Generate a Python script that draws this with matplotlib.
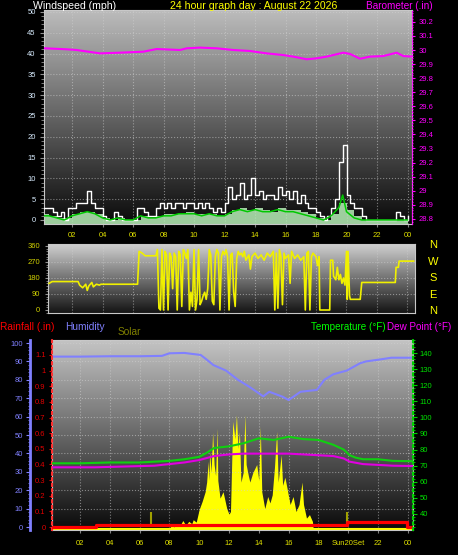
import numpy as np
import matplotlib
matplotlib.use('Agg')
import matplotlib.pyplot as plt
from matplotlib.ticker import MultipleLocator, FixedLocator
from matplotlib.colors import LinearSegmentedColormap

# ---------------- data ----------------
title = "24 hour graph day : August 22 2026"
hour_ticks = [2, 4, 6, 8, 10, 12, 14, 16, 18, 20, 22, 24]
hour_labels_top = ["02", "04", "06", "08", "10", "12", "14", "16", "18", "20", "22", "00"]
hour_labels_bottom = ["02", "04", "06", "08", "10", "12", "14", "16", "18", "Sun20Set", "22", "00"]

# barometer (inHg)
baro_h = [0.0, 0.23, 1.65, 2.3, 3.84, 5.15, 6.68, 7.55, 9.08, 9.52, 10.39, 11.49, 12.58, 13.67,
          14.77, 15.86, 16.51, 17.39, 18.05, 18.70, 19.79, 20.23, 20.89, 21.54, 22.41, 23.29, 23.72, 24.3]
baro_v = [30.012, 30.012, 30.005, 30.0, 29.976, 29.981, 29.988, 30.007, 30.0, 30.012, 30.017, 30.012,
          30.0, 29.993, 29.976, 29.964, 29.953, 29.934, 29.941, 29.953, 29.981, 29.972, 29.938, 29.953,
          29.957, 29.981, 29.957, 29.953]

# wind gust (mph), every 15 minutes from 00:00
gust_h = np.arange(0, 24.01, 0.25)
gust_v = [3, 3, 3, 2, 1, 2, 0, 3, 3, 4, 4, 4, 7, 4, 3, 3, 1, 0, 0, 2, 1, 0, 0, 0, 0, 3, 3, 2, 1, 1,
          3, 4, 3, 4, 3, 4, 4, 3, 4, 4, 3, 4, 3, 4, 3, 2, 3, 2, 4, 8, 5, 6, 9, 5, 6, 10, 6, 7, 5, 6,
          6, 5, 8, 6, 7, 5, 7, 4, 6, 4, 3, 3, 2, 1, 0, 1, 3, 5, 14, 18, 6, 4, 3, 3, 1, 0, 0, 0, 0, 0,
          0, 0, 0, 2, 1, 0, 1]
# wind speed (mph), every 30 minutes
speed_h = np.arange(0, 24.01, 0.5)
speed_v = [1.5, 1, 0.5, 0.5, 1.5, 2, 2, 1.5, 0.5, 0, 0.5, 0, 0, 1, 0.5, 1, 1.5, 1.5, 1.5, 2, 1.5,
           1.5, 1.5, 1, 1.5, 2.5, 3, 2.5, 3, 2.5, 2, 3, 2.5, 2.5, 2, 1.5, 0.5, 0, 1.5, 4, 2.5, 1,
           0, 0, 0, 0, 0, 0, 0]
avg_h = [0, 0.5, 1, 1.5, 2, 2.5, 3, 3.5, 4, 4.5, 5, 5.5, 6, 6.5, 7, 7.5, 8, 8.5, 9, 9.5, 10, 10.5,
         11, 11.5, 12, 12.5, 13, 13.5, 14, 14.5, 15, 15.5, 16, 16.5, 17, 17.5, 18, 18.5, 19, 19.5,
         19.75, 20, 20.5, 21, 24]
avg_v = [1, 1, 0.5, 0, 1, 1.5, 2, 1.5, 0.5, 0, 0.5, 0, 0, 1, 0.5, 0.5, 1, 1, 1.5, 1.5, 1.5, 1,
         1.5, 1, 1, 2, 2.5, 2, 2.5, 2, 2, 2.5, 2, 2, 1.5, 1, 0.5, 0, 1, 3, 6, 2, 0.5, 0, 0]

# wind direction (degrees)
dir_h = [0.5, 0.7, 2.4, 2.5, 2.7, 2.9, 3.0, 3.1, 3.3, 3.4, 3.6, 3.8, 3.9, 6.3, 6.4, 6.6, 6.8, 7.5,
         7.6, 7.7, 7.8, 7.9, 8.0, 8.1, 8.2, 8.3, 8.4, 8.5, 8.6, 8.7, 8.8, 8.9, 9.0, 9.1, 9.2, 9.3,
         9.4, 9.5, 9.6, 9.7, 9.8, 9.9, 10.0, 10.1, 10.2, 10.3, 10.4, 10.5, 10.6, 10.7, 10.8, 10.9,
         11.0, 11.1, 11.2, 11.3, 11.4, 11.5, 11.6, 11.7, 11.8, 11.9, 12.0, 12.1, 12.2, 12.3, 12.4,
         12.5, 12.6, 12.7, 12.8, 12.9, 13.0, 13.1, 13.2, 13.3, 13.4, 13.6, 13.7, 13.8, 14.0, 14.2,
         14.4, 14.6, 14.8, 15.0, 15.2, 15.3, 15.4, 15.5, 15.6, 15.7, 15.8, 15.9, 16.0, 16.2, 16.3,
         16.4, 16.6, 16.8, 17.0, 17.2, 17.3, 17.4, 17.5, 17.6, 17.7, 17.8, 18.0, 18.1, 18.2, 18.25,
         18.9, 18.95, 19.1, 19.15, 19.3, 19.4, 19.5, 19.6, 19.7, 19.8, 19.9, 20.0, 20.05, 20.1,
         20.2, 20.25, 20.9, 21.0, 23.2, 23.25, 23.4, 23.45, 24.4]
dir_v = [150, 160, 160, 140, 125, 145, 110, 135, 155, 130, 145, 140, 145, 145, 330, 320, 305, 305,
         340, 10, 0, 340, 0, 330, 310, 0, 320, 300, 120, 320, 300, 0, 330, 310, 20, 340,
         320, 290, 340, 0, 100, 20, 340, 0, 60, 340, 30, 50, 80, 100, 60, 120,
         340, 310, 50, 30, 300, 340, 320, 0, 300, 330, 310, 340, 300, 0, 310,
         320, 100, 20, 290, 330, 310, 320, 300, 330, 280, 310, 230, 300, 320, 290,
         310, 280, 320, 300, 330, 0, 320, 10, 340, 300, 30, 320, 290, 310, 150,
         330, 290, 310, 280, 300, 0, 320, 330, 0, 300, 320, 300, 250, 300, 0,
         0, 280, 280, 190, 170, 240, 170, 200, 150, 180, 140, 330, 60, 330,
         80, 60, 60, 155, 155, 240, 240, 275, 275]
dir_letters = ["N", "W", "S", "E", "N"]

# humidity (%)
hum_h = [0, 2, 4, 6, 7.5, 8.0, 9.0, 10.1, 10.5, 10.95, 11.8, 12.6, 13.4, 14.3, 14.7, 15.6, 16.0,
         16.8, 17.9, 18.4, 19.0, 19.9, 20.8, 21.2, 22.1, 22.9, 24.3]
hum_v = [92.6, 92.6, 92.8, 92.8, 93, 94.4, 94.6, 93.5, 91, 88, 85, 80, 76, 71, 73.5, 70.8, 69,
         73.5, 74.5, 80, 83, 85, 89, 90, 91, 92, 92]

# temperature / dew point (F)
temp_h = [0, 2, 4, 6, 7, 8, 9, 10, 10.5, 11, 12, 13, 14, 15, 16, 17, 18, 19, 19.7, 20.1, 20.5,
          21, 22, 23, 24.3]
temp_v = [71.5, 71.5, 72, 72, 72.5, 73, 74, 75.5, 78, 81, 82, 84, 87, 86, 88, 86.5, 86, 83, 80,
          76.5, 75, 74, 74, 73, 72.8]
dew_h = [0, 3, 5, 7, 8, 9, 10, 11, 12, 13, 14, 15, 16, 17, 18, 19, 19.7, 20.1, 21, 22, 23, 24.3]
dew_v = [69, 69, 69.5, 70, 71, 72, 73.5, 76, 77, 77.5, 77.5, 77.5, 77.5, 77, 76.5, 76, 74.5,
         72.5, 71, 70.5, 70, 69.8]

# rainfall (in)
rain_h = [0.1, 3.05, 3.05, 19.9, 19.9, 23.95, 23.95, 24.3]
rain_v = [0.0, 0.0, 0.01, 0.01, 0.03, 0.03, 0.0, 0.0]

# solar (W/m2)
solar_h = [0.1, 8.0, 8.15, 8.3, 8.5, 8.7, 8.9, 9.1, 9.3, 9.5, 9.6, 9.8, 10.0, 10.2, 10.4, 10.5,
           10.6, 10.65, 10.7, 10.8, 10.9, 11.0, 11.1, 11.2, 11.25, 11.4, 11.6, 11.85, 12.0, 12.1,
           12.25, 12.4, 12.5, 12.6, 12.7, 12.8, 12.95, 13.07, 13.15, 13.3, 13.4, 13.6, 13.86,
           14.0, 14.1, 14.2, 14.4, 14.6, 14.75, 14.9, 15.05, 15.2, 15.3, 15.5, 15.6, 15.75, 15.9,
           16.1, 16.3, 16.5, 16.7, 16.9, 17.0, 17.2, 17.4, 17.6, 17.65, 24.3]
solar_v = [0, 0, 25, 10, 30, 15, 50, 20, 45, 30, 55, 40, 120, 170, 230, 290,
           420, 300, 480, 350, 600, 400, 330, 627, 300, 190, 230, 125, 90, 106,
           670, 560, 710, 500, 606, 290, 350, 712, 400, 330, 290, 350, 400,
           300, 637, 230, 125, 200, 160, 210, 380, 606, 290, 460, 270, 320, 250,
           150, 200, 106, 150, 290, 150, 65, 87, 44, 0, 0]
sun_events = [6.77, 19.9]

# ---------------- layout ----------------
plt.rcParams['font.family'] = ['Liberation Sans', 'DejaVu Sans']
W, H = 458, 555
fig = plt.figure(figsize=(W / 100, H / 100), dpi=100, facecolor='black')


def axes_px(x0, y0, x1, y1):
    return fig.add_axes([x0 / W, 1 - y1 / H, (x1 - x0) / W, (y1 - y0) / H])


def gradient(ax, top, bottom):
    grad = np.linspace(0, 1, 256).reshape(-1, 1)
    cmap = LinearSegmentedColormap.from_list('g', [bottom, top])
    ax.imshow(grad, extent=[0, 1, 0, 1], transform=ax.transAxes, origin='lower',
              cmap=cmap, aspect='auto', zorder=0, interpolation='bilinear')


def lim_from_px(px_a, val_a, px_per_unit, px_lo, px_hi):
    # px increasing downward; returns (bottom, top) value limits
    return (val_a - (px_hi - px_a) / px_per_unit, val_a + (px_a - px_lo) / px_per_unit)


TICK_FS = 5.5
YEL = '#e0e000'
GRID = dict(color='#d0d0d0', linestyle=':', linewidth=0.8, alpha=0.55)

def fig_text(px, py, s, color, ha='left', size=7.5):
    fig.text(px / W, 1 - py / H, s, color=color, ha=ha, va='center', fontsize=size)

# ---------- top panel: wind + barometer ----------
ax1 = axes_px(44, 10, 412, 224)
gradient(ax1, '#bcbcbc', '#0a0a0a')
ax1.set_xlim((44 - 41.5) / 15.25, (412 - 41.5) / 15.25)
ax1.set_ylim(*lim_from_px(220, 0, 4.16, 10, 224))
for x in hour_ticks:
    ax1.axvline(x, zorder=1, **GRID)
for y in range(5, 51, 5):
    ax1.axhline(y, zorder=1, **GRID)
ax1.fill_between(speed_h, speed_v, -1, step='post', color='#b8f0b8', alpha=0.85, zorder=2, lw=0)
ax1.plot(gust_h, gust_v, drawstyle='steps-post', color='white', lw=1.0, zorder=3)
ax1.plot(avg_h, avg_v, color='#00c800', lw=1.1, zorder=4)
ax1.set_xticks(hour_ticks)
ax1.set_xticklabels(hour_labels_top)
ax1.yaxis.set_major_locator(MultipleLocator(5))
ax1.yaxis.set_minor_locator(MultipleLocator(1))
ax1.tick_params(axis='x', colors='#808080', labelcolor=YEL, labelsize=TICK_FS, length=2, pad=4)
ax1.tick_params(axis='y', which='both', colors='#909090', labelcolor='#d8ecff', labelsize=TICK_FS,
                length=3, pad=3)
ax1.tick_params(axis='y', which='minor', length=2)
for s in ax1.spines.values():
    s.set_color('#c8c8c8')

ax1b = ax1.twinx()
ax1b.set_ylim(*lim_from_px(50, 30.0, 140.7, 10, 224))
ax1b.plot(baro_h, baro_v, color='#ff00ff', lw=1.5, zorder=5)
ax1b.yaxis.set_major_locator(FixedLocator(np.round(np.arange(28.8, 30.21, 0.1), 1)))
ax1b.set_yticklabels([('%g' % v) for v in np.round(np.arange(28.8, 30.21, 0.1), 1)])
ax1b.yaxis.set_minor_locator(MultipleLocator(0.02))
ax1b.tick_params(axis='y', which='both', colors='#ff00ff', labelcolor='#ff00ff',
                 labelsize=TICK_FS, length=2.5, pad=2)
ax1b.tick_params(axis='y', which='minor', length=1)
ax1b.spines['right'].set_color('#ff00ff')
ax1b.spines['right'].set_linestyle(':')
for k in ('left', 'top', 'bottom'):
    ax1b.spines[k].set_visible(False)

fig_text(33, 6, "Windspeed (mph)", 'white', size=7.6)
fig_text(254, 6, title, '#ffff00', ha='center', size=7.6)
fig_text(433, 6, "Barometer (.in)", '#ff00ff', ha='right', size=7.2)

# ---------- direction panel ----------
ax2 = axes_px(48, 244, 415, 313)
gradient(ax2, '#d0d0d0', '#141414')
ax2.set_xlim((48 - 41.5) / 15.25, (415 - 41.5) / 15.25)
ax2.set_ylim(*lim_from_px(310, 0, 64 / 360, 244, 313))
for x in hour_ticks:
    ax2.axvline(x, zorder=1, **GRID)
for y in (90, 180, 270):
    ax2.axhline(y, zorder=1, **GRID)
ax2.plot(dir_h, dir_v, color='#f0f000', lw=1.2, zorder=3)
ax2.set_xticks([])
ax2.set_yticks([0, 90, 180, 270, 360])
ax2.yaxis.set_minor_locator(MultipleLocator(15))
ax2.tick_params(axis='y', which='both', colors='#909090', labelcolor='#d0d000',
                labelsize=TICK_FS, length=2.5, pad=3)
ax2.tick_params(axis='y', which='minor', length=1.5)
for s in ax2.spines.values():
    s.set_color('#c8c8c8')
for i, letter in enumerate(dir_letters):
    fig_text(433, 245 + i * 16.5, letter, '#ffff00', ha='center', size=8)

# ---------- bottom panel ----------
ax3 = axes_px(52, 340, 413, 530)
gradient(ax3, '#c4c4c4', '#0a0a0a')
xl3 = ((52 - 50.2) / 14.9, (413 - 50.2) / 14.9)
ax3.set_xlim(*xl3)
ax3.set_ylim(*lim_from_px(528.5, 0, 0.16, 340, 530))
for x in hour_ticks:
    ax3.axvline(x, zorder=1, **GRID)
ax3.fill_between(solar_h, solar_v, 0, color='#ffff00', lw=0, zorder=2)
ax3.axhline(0, color='#ffff00', lw=1.5, zorder=2)
ax3.set_xticks(hour_ticks)
ax3.set_xticklabels(hour_labels_bottom)
ax3.tick_params(axis='x', colors='#808080', labelcolor=YEL, labelsize=TICK_FS, length=2, pad=5)
ax3.set_yticks([])
for s in ax3.spines.values():
    s.set_color('#c8c8c8')

axH = ax3.twinx()
axH.yaxis.tick_left()
axH.set_ylim(*lim_from_px(527, 0, 1.84, 340, 530))
for y in range(10, 101, 10):
    axH.axhline(y, zorder=1, **GRID)
axH.plot(hum_h, hum_v, color='#8080ff', lw=1.5, zorder=3)
axH.yaxis.set_major_locator(MultipleLocator(10))
axH.yaxis.set_minor_locator(MultipleLocator(2))
axH.tick_params(axis='y', which='both', colors='#8080ff', labelcolor='#8080ff',
                labelsize=TICK_FS, length=3, pad=2)
axH.tick_params(axis='y', which='minor', length=1.5)
axH.spines['left'].set_position(('outward', 22 * 0.72))
axH.spines['left'].set_color('#8080ff')
axH.spines['left'].set_linewidth(2)
for k in ('right', 'top', 'bottom'):
    axH.spines[k].set_visible(False)

axR = ax3.twinx()
axR.yaxis.tick_left()
axR.set_ylim(*lim_from_px(527, 0, 156.4, 340, 530))
axR.plot(rain_h, rain_v, color='#ff0000', lw=2.3, zorder=4)
axR.vlines(sun_events, 0, 0.095, color='#a0a000', lw=1.5, zorder=3)
axR.set_yticks(np.round(np.arange(0, 1.11, 0.1), 1))
axR.set_yticklabels([('%g' % v) for v in np.round(np.arange(0, 1.11, 0.1), 1)])
axR.yaxis.set_minor_locator(MultipleLocator(0.02))
axR.tick_params(axis='y', which='both', colors='#e00000', labelcolor='#e00000',
                labelsize=TICK_FS, length=2.5, pad=2)
axR.tick_params(axis='y', which='minor', length=1)
axR.spines['left'].set_color('#ff3030')
axR.spines['left'].set_linestyle(':')
axR.spines['left'].set_linewidth(1.5)
for k in ('right', 'top', 'bottom'):
    axR.spines[k].set_visible(False)

axT = ax3.twinx()
axT.set_ylim(*lim_from_px(514, 40, 1.61, 340, 530))
axT.plot(temp_h, temp_v, color='#10d010', lw=1.5, zorder=4)
axT.plot(dew_h, dew_v, color='#e000e0', lw=1.5, zorder=4)
axT.yaxis.set_major_locator(FixedLocator(range(40, 141, 10)))
axT.yaxis.set_minor_locator(MultipleLocator(2))
axT.tick_params(axis='y', which='both', colors='#00d000', labelcolor='#00e000',
                labelsize=TICK_FS, length=3, pad=2)
axT.tick_params(axis='y', which='minor', length=1.5)
axT.spines['right'].set_color('#00d000')
axT.spines['right'].set_linestyle(':')
axT.spines['right'].set_linewidth(1.5)
for k in ('left', 'top', 'bottom'):
    axT.spines[k].set_visible(False)
for a in (axH, axR, axT):
    a.set_xlim(*xl3)

fig_text(0, 327, "Rainfall (.in)", '#ff0000', size=7.3)
fig_text(65, 327, "Humidity", '#8080ff', size=7.3)
fig_text(118, 332, "Solar", '#808000', size=7.3)
fig_text(386, 327, "Temperature (\u00b0F)", '#00ff00', ha='right', size=7.1)
fig_text(387, 327, "Dew Point (\u00b0F)", '#ff00ff', size=7.1)

fig.savefig('out.png', dpi=100, facecolor='black')
